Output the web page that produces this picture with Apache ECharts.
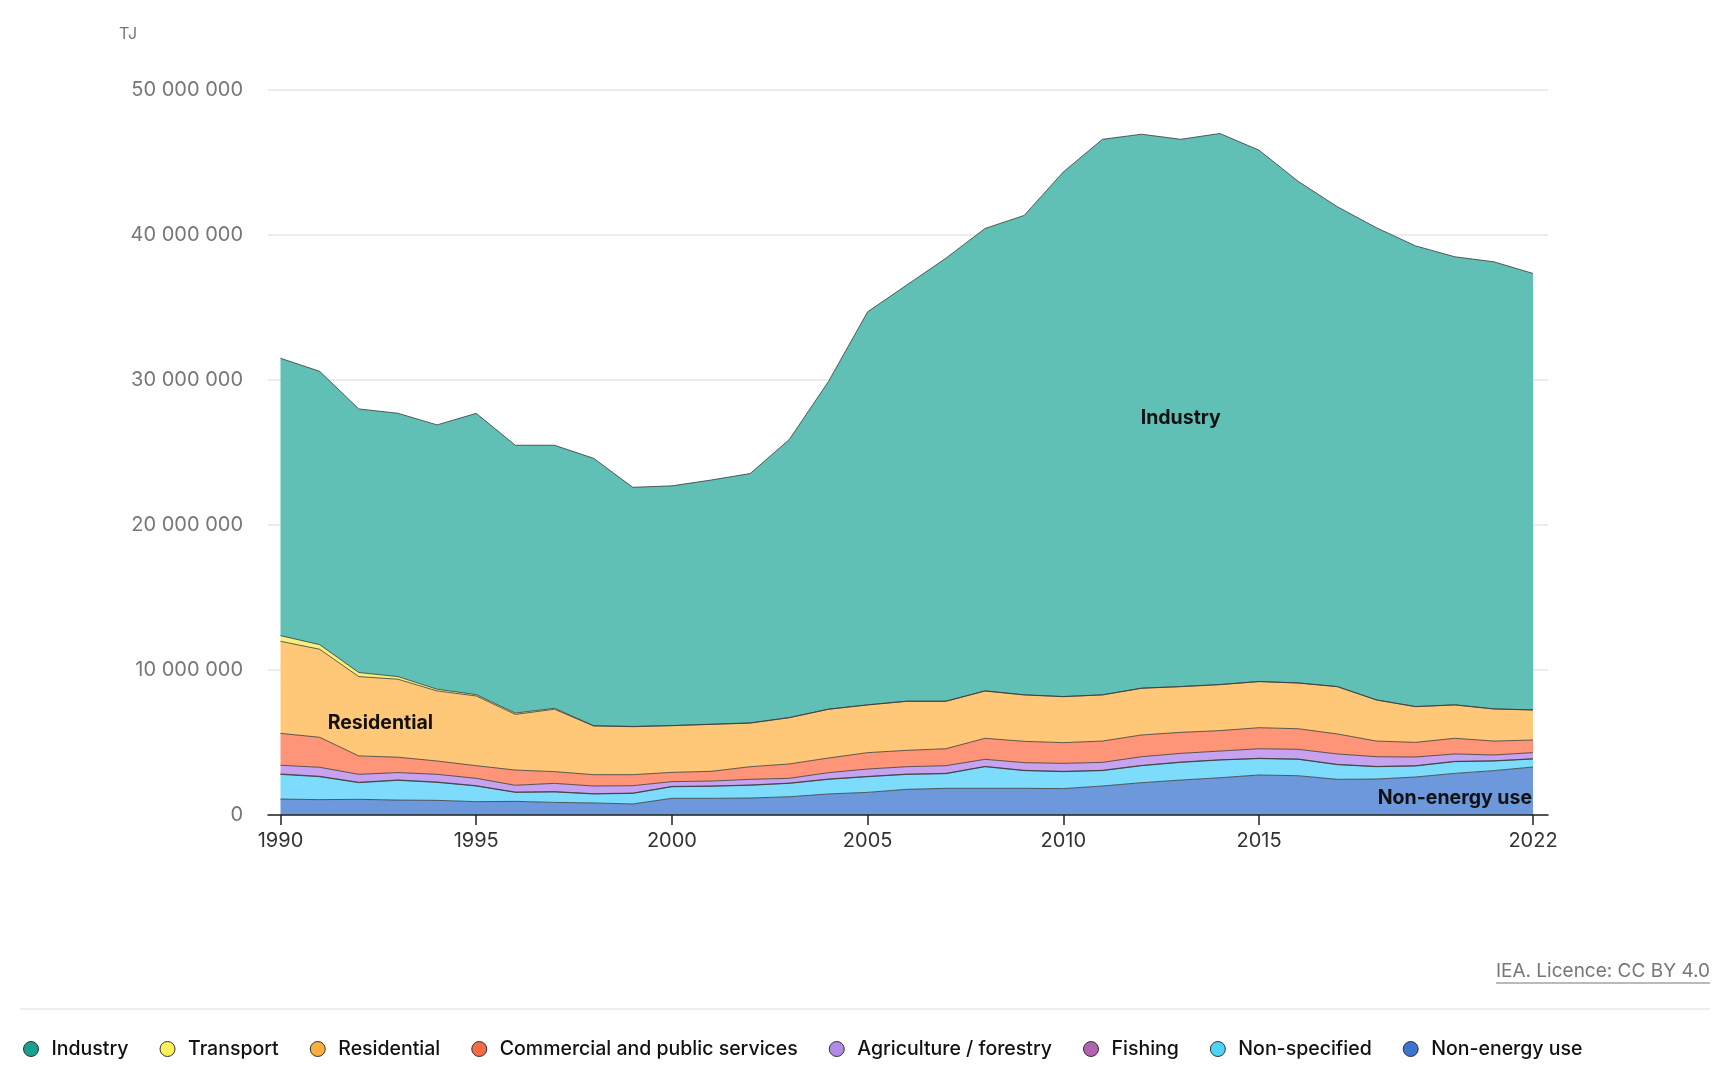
<!DOCTYPE html>
<html><head><meta charset="utf-8">
<script src="https://cdn.jsdelivr.net/npm/echarts@6/dist/echarts.min.js"></script>
<style>html,body{margin:0;padding:0;background:#fff}#c{width:1728px;height:1074px}</style>
</head><body><div id="c"></div>
<script>
const years = [1990,1991,1992,1993,1994,1995,1996,1997,1998,1999,2000,2001,2002,2003,2004,2005,2006,2007,2008,2009,2010,2011,2012,2013,2014,2015,2016,2017,2018,2019,2020,2021,2022];
const xTickLabels = [1990,1995,2000,2005,2010,2015,2022];
const nonEnergy = [1100000,1060000,1080000,1030000,1010000,920000,940000,870000,830000,760000,1150000,1150000,1170000,1260000,1450000,1560000,1770000,1840000,1840000,1840000,1820000,2000000,2230000,2410000,2570000,2760000,2710000,2460000,2480000,2620000,2870000,3060000,3310000];
const nonSpecified = [1700000,1580000,1150000,1360000,1240000,1080000,620000,720000,620000,730000,800000,830000,880000,920000,1010000,1080000,1030000,1010000,1490000,1220000,1170000,1060000,1170000,1220000,1220000,1130000,1130000,1010000,850000,760000,810000,660000,550000];
const fishing = [30000,30000,25000,25000,25000,20000,20000,20000,20000,20000,20000,20000,20000,20000,20000,20000,20000,20000,20000,20000,20000,20000,20000,20000,20000,20000,20000,20000,20000,20000,20000,20000,20000];
const agriculture = [600000,620000,550000,510000,530000,510000,470000,570000,530000,510000,330000,340000,390000,330000,440000,510000,510000,530000,490000,530000,550000,550000,600000,600000,600000,660000,670000,720000,670000,600000,510000,400000,420000];
const commercial = [2200000,2070000,1270000,1060000,920000,870000,1050000,810000,780000,760000,640000,670000,870000,990000,1010000,1130000,1130000,1170000,1450000,1470000,1430000,1470000,1500000,1450000,1410000,1450000,1420000,1380000,1080000,1010000,1080000,960000,870000];
const residential = [6350000,6070000,5470000,5380000,4830000,4810000,3840000,4300000,3360000,3310000,3220000,3240000,3010000,3190000,3360000,3290000,3380000,3270000,3260000,3200000,3170000,3180000,3220000,3150000,3170000,3180000,3150000,3260000,2830000,2460000,2300000,2210000,2070000];
const transport = [390000,320000,280000,180000,120000,90000,90000,70000,20000,20000,10000,10000,10000,10000,10000,10000,10000,10000,10000,10000,10000,10000,10000,10000,10000,10000,10000,10000,10000,10000,10000,10000,10000];
const industry = [19130000,18850000,18180000,18160000,18230000,19400000,18470000,18140000,18440000,16490000,16530000,16840000,17200000,19180000,22600000,27100000,28700000,30550000,31890000,33060000,36180000,38310000,38200000,37740000,38000000,36640000,34590000,33090000,32560000,31770000,30900000,30830000,30100000];

const seriesDefs = [
  {name:'Non-energy use', data:nonEnergy, c:'#3d74d0', fill:'#6e98dc'},
  {name:'Non-specified', data:nonSpecified, c:'#4fd3f9', fill:'#7ddcfc'},
  {name:'Fishing', data:fishing, c:'#b063b0', fill:'#c98fc9'},
  {name:'Agriculture / forestry', data:agriculture, c:'#b48ae9', fill:'#c6a2f0'},
  {name:'Commercial and public services', data:commercial, c:'#f46b45', fill:'#fe9578'},
  {name:'Residential', data:residential, c:'#fbae3c', fill:'#fec878'},
  {name:'Transport', data:transport, c:'#fdf15a', fill:'#f8f07d'},
  {name:'Industry', data:industry, c:'#17a08f', fill:'#60c0b5'}
];
const legendOrder = ['Industry','Transport','Residential','Commercial and public services','Agriculture / forestry','Fishing','Non-specified','Non-energy use'];
const FONT = 'Inter, "Noto Sans", sans-serif';

const chart = echarts.init(document.getElementById('c'), null, {renderer:'canvas'});
const fmt = v => String(v).replace(/\B(?=(\d{3})+(?!\d))/g, ' ');
const isLabelYear = (idx, val) => xTickLabels.indexOf(Number(val)) >= 0;

chart.setOption({
  animation:false,
  backgroundColor:'#fff',
  grid:[
    {left:280.5, right:195, top:90, bottom:259, containLabel:false},
    {left:268, right:180, top:90, bottom:259, containLabel:false}
  ],
  xAxis:[
    {
      gridIndex:0, type:'category', boundaryGap:false, data:years.map(String), z:10,
      axisLine:{show:false},
      axisTick:{show:true, interval:isLabelYear, length:10, lineStyle:{color:'#222', width:1.5}},
      axisLabel:{interval:isLabelYear, color:'#333', fontSize:20, fontFamily:FONT, margin:16},
      splitLine:{show:false}
    },
    {
      gridIndex:1, type:'value', min:0, max:1, z:10,
      axisLine:{show:true, lineStyle:{color:'#222', width:1.5}},
      axisTick:{show:false}, axisLabel:{show:false}, splitLine:{show:false}
    }
  ],
  yAxis:[
    {gridIndex:0, type:'value', min:0, max:50000000, interval:10000000, show:false, splitLine:{show:false}},
    {
      gridIndex:1, type:'value', min:0, max:50000000, interval:10000000,
      axisLine:{show:false}, axisTick:{show:false},
      axisLabel:{color:'#777', fontSize:20, fontFamily:FONT, margin:25, formatter:fmt},
      splitLine:{show:true, lineStyle:{color:'#e6e6e6', width:1.5}}
    }
  ],
  legend:{
    data:legendOrder, left:18, top:1034, icon:'circle', itemWidth:15, itemHeight:15, itemGap:31,
    itemStyle:{borderColor:'#333', borderWidth:1},
    textStyle:{color:'#111', fontSize:19.5, fontWeight:500, fontFamily:FONT, padding:[0,0,0,8]}
  },
  series: seriesDefs.map(s=>({
    name:s.name, type:'line', stack:'total', symbol:'none', smooth:false,
    xAxisIndex:0, yAxisIndex:0,
    data: s.data,
    itemStyle:{color:s.c},
    lineStyle:{color:'#3a3a3a', width:0.9, opacity:0.9},
    areaStyle:{color:s.fill, opacity:1},
    emphasis:{disabled:true}
  }))
});

function place(){
  const p = (yr,v)=>chart.convertToPixel({gridIndex:0}, [years.indexOf(yr), v]);
  const ind = p(2013, 27380000);
  const res = p(1991, 6330000);
  const ne = p(2022, 1170000);
  const cv = document.createElement('canvas').getContext('2d');
  const creditFont = '19px ' + FONT;
  cv.font = creditFont;
  const credit = 'IEA. Licence: CC BY 4.0';
  const cw = cv.measureText(credit).width;
  chart.setOption({graphic:[
    {type:'text', left:119, top:26, style:{text:'TJ', fill:'#777', font:'16px '+FONT}},
    {type:'text', x:ind[0], y:ind[1], z:100, style:{text:'Industry', fill:'#111', font:'bold 19.5px '+FONT, align:'center', verticalAlign:'middle'}},
    {type:'text', x:res[0]+8, y:res[1], z:100, style:{text:'Residential', fill:'#111', font:'bold 19.5px '+FONT, align:'left', verticalAlign:'middle'}},
    {type:'text', x:ne[0]-1, y:ne[1], z:100, style:{text:'Non-energy use', fill:'#111', font:'bold 19.5px '+FONT, align:'right', verticalAlign:'middle'}},
    {type:'text', x:1710, y:971, style:{text:credit, fill:'#777', font:creditFont, align:'right', verticalAlign:'middle'}},
    {type:'line', shape:{x1:1710-cw, y1:983, x2:1710, y2:983}, style:{stroke:'#777', lineWidth:1.2}},
    {type:'line', shape:{x1:20, y1:1009, x2:1710, y2:1009}, style:{stroke:'#e8e8e8', lineWidth:1.5}}
  ]});
}
place();
</script>
</body></html>
